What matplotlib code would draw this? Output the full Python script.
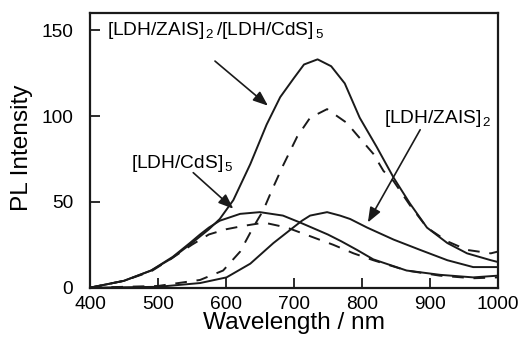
import matplotlib
matplotlib.use("Agg")
import matplotlib.pyplot as plt

plt.rcParams['font.family'] = ['Liberation Sans', 'DejaVu Sans']
plt.rcParams['mathtext.fontset'] = 'custom'
plt.rcParams['mathtext.rm'] = 'Liberation Sans'
plt.rcParams['mathtext.it'] = 'Liberation Sans:italic'

# Combined film, solid
comb_x = [400, 450, 490, 520, 550, 575, 591, 611, 636, 660, 680, 700, 715, 735, 755, 775, 797,
          822, 847, 871, 896, 926, 955, 990, 1000]
comb_y = [0, 4, 10, 17, 26, 34, 40, 51, 72, 95, 111, 122, 130, 133, 129, 119, 99,
          82, 64, 49, 35, 26, 20, 16, 15]
# Combined film, dashed
combd_x = [400, 500, 562, 596, 621, 640, 655, 668, 684, 705, 724, 749, 778, 793, 817, 832,
           847, 871, 896, 926, 955, 990, 1000]
combd_y = [0, 1, 4.5, 10, 21, 35, 45, 57, 71, 88, 99, 104, 96, 89, 78, 68,
           62, 48, 35, 27, 22, 20, 21]
# [LDH/ZAIS]2 solid
zais_x = [400, 500, 562, 601, 636, 670, 699, 712, 724, 749, 768, 783, 808, 847, 886, 926, 964, 1000]
zais_y = [0, 0.5, 2.7, 6, 14, 26, 35, 39, 42, 44, 42, 40, 35, 28, 22, 16, 12, 12]
# [LDH/CdS]5 solid
cds_x = [400, 450, 490, 522, 547, 562, 575, 591, 621, 650, 684, 709, 750, 770, 793, 817, 866,
         915, 964, 1000]
cds_y = [0, 4, 10, 18, 26, 31, 35, 39, 43, 44, 42, 38, 31, 27, 22, 16.5, 10,
         7.5, 6, 7]
# [LDH/CdS]5 dashed
cdsd_x = [400, 450, 490, 520, 550, 575, 600, 626, 650, 661, 690, 724, 758, 788, 817, 866, 915, 964, 1000]
cdsd_y = [0, 4, 9.5, 17, 25, 31, 34, 36, 37.5, 37.5, 35, 30, 25, 20, 16, 10, 7, 5.5, 6]

xticks = [400, 500, 600, 700, 800, 900, 1000]
yticks = [0, 50, 100, 150]

fig = plt.figure(figsize=(5.23, 3.44), dpi=100)
ax = fig.add_axes([0.172, 0.1637, 0.7795, 0.7985])

lw = 1.4
dash = (0, (6, 5))
ax.plot(comb_x, comb_y, color='#1a1a1a', lw=lw)
ax.plot(combd_x, combd_y, color='#1a1a1a', lw=lw, linestyle=dash)
ax.plot(zais_x, zais_y, color='#1a1a1a', lw=lw)
ax.plot(cds_x, cds_y, color='#1a1a1a', lw=lw)
ax.plot(cdsd_x, cdsd_y, color='#1a1a1a', lw=lw, linestyle=dash)

ax.set_xlim(400, 1000)
ax.set_ylim(0, 160)
ax.set_xticks(xticks)
ax.set_yticks(yticks)
ax.tick_params(axis='both', direction='in', length=7, width=1.3, labelsize=13.8, color='#1a1a1a')
ax.tick_params(axis='x', pad=6)
ax.tick_params(axis='y', pad=12)
for s in ax.spines.values():
    s.set_linewidth(1.6)
    s.set_color('#1a1a1a')
ax.set_xlabel('Wavelength / nm', fontsize=17.6, labelpad=-1)
ax.set_ylabel('PL Intensity', fontsize=17.6, labelpad=0)
ax.yaxis.set_label_coords(-0.14, 0.51)

fs = 13.8
arrow = dict(arrowstyle='-|>,head_length=0.9,head_width=0.35', color='#1a1a1a', lw=1.2,
             shrinkA=0, shrinkB=0)
ax.annotate('', xy=(662, 106), xytext=(584, 132), arrowprops=arrow)
ax.annotate('', xy=(611, 46), xytext=(552, 67), arrowprops=arrow)
ax.annotate('', xy=(809, 38), xytext=(886, 92), arrowprops=arrow)

ax.text(425, 147, r'[LDH/ZAIS]$_{\,\mathit{2}}$$\,$/[LDH/CdS]$_{\,\mathit{5}}$', fontsize=fs,
        va='baseline', ha='left')
ax.text(460, 70, r'[LDH/CdS]$_{\,\mathit{5}}$', fontsize=fs, va='baseline', ha='left')
ax.text(833, 96, r'[LDH/ZAIS]$_{\,\mathit{2}}$', fontsize=fs, va='baseline', ha='left')

fig.savefig('out.png', dpi=100)
